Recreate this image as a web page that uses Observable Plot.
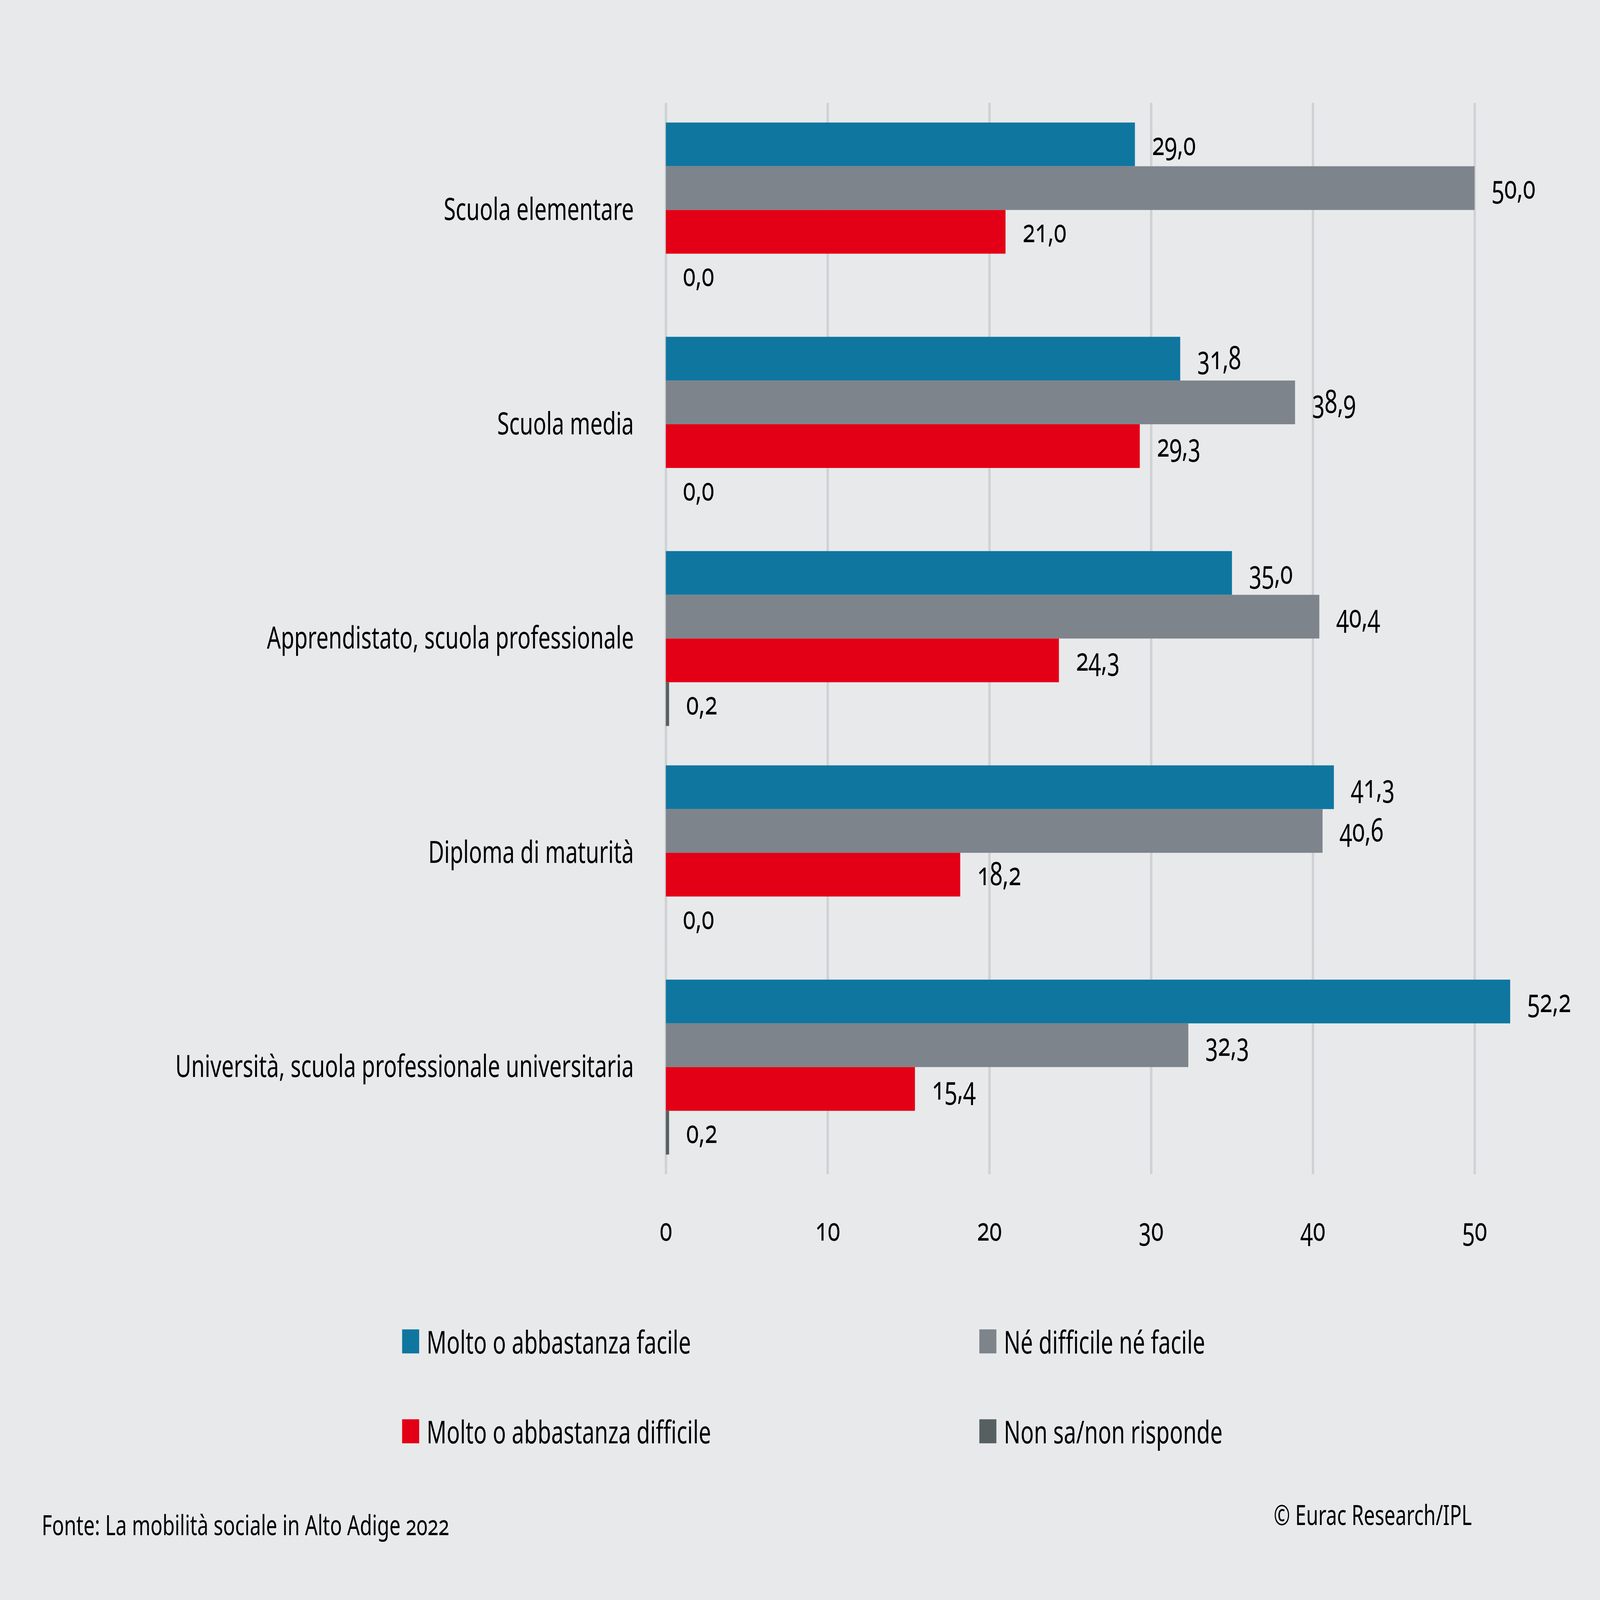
<!DOCTYPE html>
<html>
<head>
<meta charset="utf-8">
<script src="https://cdn.jsdelivr.net/npm/d3@7"></script>
<script src="https://cdn.jsdelivr.net/npm/@observablehq/plot@0.6"></script>
<style>
  html, body { margin: 0; padding: 0; overflow: hidden; background: #e8e9eb; }
  #page {
    width: 7329px; height: 5197px; position: absolute; left: 0; top: 0;
    transform-origin: 0 0;
    background: #e8e9eb; font-family: "Noto Sans", "Open Sans", sans-serif;
    font-variant-numeric: oldstyle-nums; color: #000;
  }
  #chart { position: absolute; left: 0; top: 0; }
  #legend {
    position: absolute; left: 1842px; top: 4297px;
    display: grid; grid-template-columns: 2644px auto; row-gap: 172px;
  }
  .item { display: flex; align-items: center; height: 120px; font-size: 101px; line-height: 120px; white-space: nowrap; }
  .sw { width: 78px; height: 78px; margin-right: 34px; flex: none; }
  #source { position: absolute; left: 191px; top: 4906px; font-size: 91px; line-height: 91px; white-space: nowrap; }
  #copy { position: absolute; right: 587px; top: 4873px; font-size: 90px; line-height: 90px; white-space: nowrap; }
</style>
</head>
<body>
<div id="page">
  <div id="chart"></div>
  <div id="legend"></div>
  <div id="source"></div>
  <div id="copy"></div>
</div>
<script>
const categories = [
  "Scuola elementare",
  "Scuola media",
  "Apprendistato, scuola professionale",
  "Diploma di maturità",
  "Università, scuola professionale universitaria"
];
const series = [
  "Molto o abbastanza facile",
  "Né difficile né facile",
  "Molto o abbastanza difficile",
  "Non sa/non risponde"
];
const facile    = [29.0, 31.8, 35.0, 41.3, 52.2];
const neutro    = [50.0, 38.9, 40.4, 40.6, 32.3];
const difficile = [21.0, 29.3, 24.3, 18.2, 15.4];
const nonSa     = [0.0, 0.0, 0.2, 0.0, 0.2];
const colors = ["#0f76a0", "#7e848b", "#e30016", "#576060"];
const xTicks = [0, 10, 20, 30, 40, 50];
const sourceText = "Fonte: La mobilità sociale in Alto Adige 2022";
const copyText = "© Eurac Research/IPL";

const W = 7329, H = 5197;
const page = document.getElementById("page");
const sx = window.innerWidth / W, sy = window.innerHeight / H;
page.style.transform = `scale(${sx}, ${sy})`;

const valuesBySeries = [facile, neutro, difficile, nonSa];
const data = [];
categories.forEach((c, i) => {
  series.forEach((s, j) => {
    data.push({category: c, series: s, value: valuesBySeries[j][i]});
  });
});
const fmt = v => d3.format(".1f")(v).replace(".", ",");

const chart = Plot.plot({
  width: W,
  height: 4114,
  marginTop: 334,
  marginBottom: 300,
  marginLeft: 3050,
  marginRight: 204,
  style: {
    background: "transparent",
    fontFamily: "'Noto Sans', 'Open Sans', sans-serif",
    fontVariantNumeric: "oldstyle-nums",
    color: "#000",
    overflow: "visible"
  },
  x: {domain: [0, 55]},
  fy: {domain: categories, padding: 0},
  y: {domain: series, paddingInner: 0, paddingOuter: 0.434, axis: null},
  color: {domain: series, range: colors},
  marks: [
    Plot.gridX(xTicks, {stroke: "#d0d1d4", strokeOpacity: 1, strokeWidth: 11}),
    Plot.barX(data, {x: "value", y: "series", fy: "category", fill: "series"}),
    Plot.text(data, {
      x: "value", y: "series", fy: "category",
      text: d => fmt(d.value), dx: 78, textAnchor: "start",
      fontSize: 105, fill: "#000", fontVariant: "oldstyle-nums"
    }),
    Plot.axisX(xTicks, {
      anchor: "bottom", tickSize: 0, tickPadding: 141, fontSize: 104,
      label: null, tickFormat: d => String(d), fill: "#000",
      fontVariant: "oldstyle-nums"
    }),
    Plot.axisFy({
      anchor: "left", tickSize: 0, tickPadding: 147, fontSize: 100,
      label: null, fill: "#000"
    })
  ]
});
document.getElementById("chart").appendChild(chart);

const legend = document.getElementById("legend");
series.forEach((s, j) => {
  const item = document.createElement("div");
  item.className = "item";
  const sw = document.createElement("span");
  sw.className = "sw";
  sw.style.background = colors[j];
  const t = document.createElement("span");
  t.textContent = s;
  item.appendChild(sw);
  item.appendChild(t);
  legend.appendChild(item);
});
document.getElementById("source").textContent = sourceText;
document.getElementById("copy").textContent = copyText;
</script>
</body>
</html>
